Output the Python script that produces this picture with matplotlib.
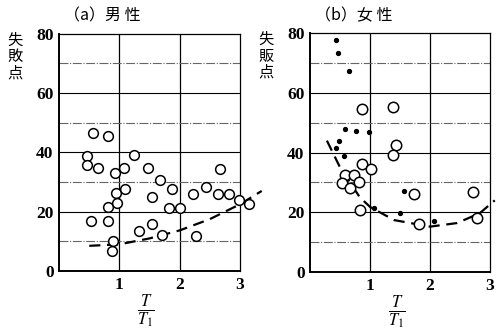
import matplotlib.pyplot as plt

plt.rcParams['font.family'] = ['Noto Sans CJK JP', 'DejaVu Sans']
plt.rcParams['mathtext.fontset'] = 'stix'

# (a) 男性 - open circles
male_x = [0.57, 0.81, 0.46, 0.46, 0.64, 0.93, 1.08, 1.24, 1.47, 1.67, 1.87,
          0.94, 1.09, 1.54, 0.81, 0.96, 1.82, 2.00, 2.22, 2.44, 2.67, 2.64,
          2.81, 2.99, 3.15, 0.53, 0.81, 0.89, 0.88, 1.32, 1.54, 1.71, 2.27]
male_y = [46.5, 45.7, 38.9, 35.7, 34.6, 33.1, 34.6, 39.0, 34.6, 30.6, 27.7,
          26.2, 27.8, 25.1, 21.6, 22.9, 21.4, 21.4, 25.9, 28.3, 34.3, 25.9,
          26.0, 24.0, 22.5, 16.9, 16.9, 10.2, 6.9, 13.5, 16.0, 12.2, 11.9]
male_curve_x = [0.5, 1.0, 1.5, 2.0, 2.5, 3.0, 3.36]
male_curve_y = [8.5, 9.0, 11.0, 13.7, 17.5, 22.5, 27.0]

# (b) 女性 - open circles and small dots
female_x = [0.87, 1.39, 1.43, 1.39, 0.87, 1.01, 0.59, 0.74, 0.53, 0.81,
            0.67, 0.83, 1.73, 1.81, 2.72, 2.78]
female_y = [54.6, 55.3, 42.7, 39.1, 36.1, 34.4, 32.4, 32.4, 29.9, 30.1,
            28.2, 20.7, 26.0, 16.1, 26.9, 18.0]
dots_x = [0.43, 0.47, 0.65, 0.58, 0.76, 0.98, 0.49, 0.43, 0.57, 1.07,
          1.56, 1.50, 2.06]
dots_y = [77.8, 73.5, 67.3, 47.8, 47.3, 46.8, 44.0, 41.4, 38.8, 21.5,
          27.0, 19.7, 17.1]
female_curve_x = [0.28, 0.5, 0.83, 1.0, 1.4, 2.0, 2.45, 2.83, 3.08]
female_curve_y = [44.0, 35.0, 25.0, 21.8, 17.4, 15.2, 16.4, 19.7, 24.0]

num_font = dict(family='Liberation Serif', weight='bold', size=12.5)

fig = plt.figure(figsize=(5.01, 3.35), dpi=100)
ax1 = fig.add_axes([0.118, 0.191, 0.361, 0.708])
ax2 = fig.add_axes([0.619, 0.188, 0.359, 0.713])

panels = [
    (ax1, '（a）男 性', '失\n敗\n点', male_x, male_y, None, None,
     male_curve_x, male_curve_y, 7),
    (ax2, '（b）女 性', '失\n販\n点', female_x, female_y, dots_x, dots_y,
     female_curve_x, female_curve_y, 7.5),
]

for ax, title, ylab, cx, cy, dx, dy, lx, ly, ms in panels:
    ax.set_xlim(0, 3)
    ax.set_ylim(0, 80)
    for v in [1, 2]:
        ax.axvline(v, color='black', lw=0.9, zorder=1)
    for h in [20, 40, 60]:
        ax.axhline(h, color='black', lw=0.8, zorder=1)
    for h in [10, 30, 50, 70]:
        ax.axhline(h, color='0.4', lw=0.8, ls=(0, (8, 1.5, 1, 1.5)), zorder=1)

    ax.plot(lx, ly, color='black', lw=1.6, ls=(0, (5, 3)), clip_on=False, zorder=2)
    ax.plot(cx, cy, 'o', ms=ms, mfc='white', mec='black', mew=1.1,
            clip_on=False, zorder=3)
    if dx is not None:
        ax.plot(dx, dy, 'o', ms=2.8, color='black', clip_on=False, zorder=3)

    ax.set_xticks([1, 2, 3])
    ax.set_yticks([0, 20, 40, 60, 80])
    ax.set_xticklabels(['1', '2', '3'], fontdict=num_font)
    ax.set_yticklabels(['0', '20', '40', '60', '80'], fontdict=num_font)
    ax.tick_params(length=0, pad=4)
    for s in ['left', 'bottom']:
        ax.spines[s].set_linewidth(1.4)
    for s in ['top', 'right']:
        ax.spines[s].set_linewidth(0.9)

    ax.text(0.24, 1.075, title, transform=ax.transAxes, ha='center',
            va='center', fontsize=11.5)
    ax.text(-0.245, 1.01, ylab, transform=ax.transAxes, ha='center',
            va='top', fontsize=11, linespacing=0.95)
    ax.text(0.48, -0.17, r'$\frac{T}{T_1}$', transform=ax.transAxes,
            ha='center', va='center', fontsize=17)

fig.savefig('out.png', dpi=100)
